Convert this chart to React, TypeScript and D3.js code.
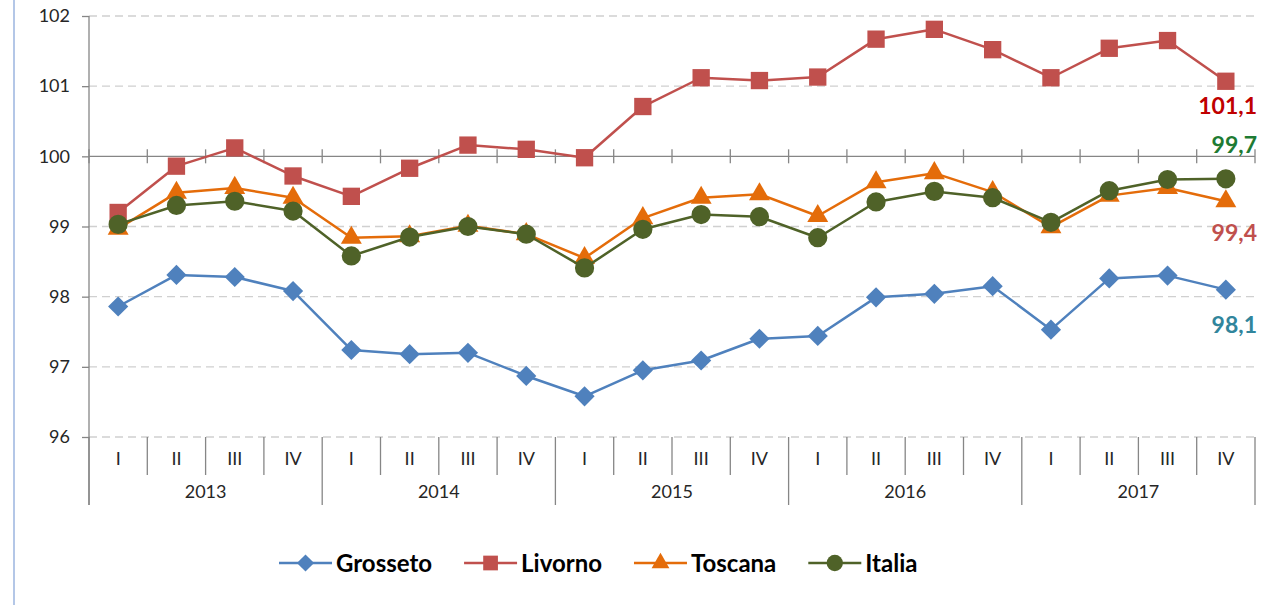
import React, { useEffect, useRef } from 'react';
import * as d3 from 'd3';

// quarters and years on the two-level category axis
const years = ['2013', '2014', '2015', '2016', '2017'];
const quarters = ['I', 'II', 'III', 'IV'];
const yTicks = [96, 97, 98, 99, 100, 101, 102];

// series values
const grosseto = [97.86, 98.31, 98.28, 98.08, 97.24, 97.18, 97.2, 96.87, 96.58, 96.95, 97.09, 97.4, 97.44, 97.99, 98.04, 98.15, 97.53, 98.26, 98.3, 98.1];
const livorno = [99.2, 99.86, 100.12, 99.72, 99.43, 99.83, 100.16, 100.1, 99.98, 100.71, 101.12, 101.08, 101.13, 101.67, 101.81, 101.52, 101.12, 101.54, 101.65, 101.07];
const toscana = [98.97, 99.48, 99.55, 99.41, 98.84, 98.86, 99.01, 98.89, 98.55, 99.12, 99.41, 99.46, 99.15, 99.63, 99.76, 99.49, 98.99, 99.44, 99.55, 99.36];
const italia = [99.03, 99.3, 99.36, 99.22, 98.58, 98.85, 99.0, 98.89, 98.41, 98.96, 99.17, 99.14, 98.84, 99.35, 99.5, 99.41, 99.06, 99.51, 99.67, 99.68];

const seriesNames = ['Grosseto', 'Livorno', 'Toscana', 'Italia'];
const seriesColors = ['#4F81BD', '#C0504D', '#E46C0A', '#4F6228'];
const seriesShapes = ['diamond', 'square', 'triangle', 'circle'];

// end labels typed on the right of the chart
const endLabels = ['101,1', '99,7', '99,4', '98,1'];
const endLabelValues = [101.07, 99.68, 99.36, 98.1];
const endLabelColors = ['#C00000', '#1E7B33', '#C0504D', '#31859C'];
const endLabelOffsets = [33, -26, 40, 43];

const FONT = 'Lato, "Open Sans", sans-serif';

export default function App() {
  const svgRef = useRef<SVGSVGElement>(null);

  useEffect(() => {
    const width = 1266;
    const height = 605;
    const svg = d3.select(svgRef.current)
      .attr('width', width)
      .attr('height', height)
      .style('background', '#fff');
    svg.selectAll('*').remove();

    const left = 89;
    const right = 1255;
    const categories = years.flatMap(y => quarters.map(q => `${y}-${q}`));
    const step = (right - left) / categories.length;

    const x = d3.scalePoint<string>()
      .domain(categories)
      .range([left, right])
      .padding(0.5);
    const y = d3.scaleLinear()
      .domain([96, 102])
      .range([437, 16]);

    // light blue frame edge on the left
    svg.append('line')
      .attr('x1', 14).attr('x2', 14)
      .attr('y1', 0).attr('y2', height)
      .attr('stroke', '#B4C7E7')
      .attr('stroke-width', 2);

    // gridlines (dashed), not on 100 where the category axis sits
    svg.append('g')
      .selectAll('line')
      .data(yTicks.filter(t => t !== 100))
      .join('line')
      .attr('x1', left).attr('x2', right)
      .attr('y1', d => y(d)).attr('y2', d => y(d))
      .attr('stroke', '#D0D0D0')
      .attr('stroke-width', 1.3)
      .attr('stroke-dasharray', '8,5');

    // y axis
    const yAxis = d3.axisLeft(y)
      .tickValues(yTicks)
      .tickSize(7)
      .tickPadding(12)
      .tickFormat(d => String(d));
    const gy = svg.append('g')
      .attr('transform', `translate(${left},0)`)
      .call(yAxis);
    gy.select('.domain').remove();
    gy.selectAll('.tick line').attr('stroke', '#868686').attr('stroke-width', 1.3);
    gy.selectAll('.tick text')
      .attr('fill', '#262626')
      .style('font-family', FONT)
      .style('font-size', '18px');

    svg.append('line')
      .attr('x1', left).attr('x2', left)
      .attr('y1', y(102)).attr('y2', 505)
      .attr('stroke', '#868686')
      .attr('stroke-width', 1.3);

    // horizontal axis crossing at 100 with cross ticks
    const y100 = y(100);
    svg.append('line')
      .attr('x1', left).attr('x2', right)
      .attr('y1', y100).attr('y2', y100)
      .attr('stroke', '#868686')
      .attr('stroke-width', 1.3);
    const bounds = d3.range(categories.length + 1);
    svg.append('g')
      .selectAll('line')
      .data(bounds)
      .join('line')
      .attr('x1', i => left + i * step).attr('x2', i => left + i * step)
      .attr('y1', y100 - 7).attr('y2', y100 + 7)
      .attr('stroke', '#868686')
      .attr('stroke-width', 1.3);

    // multi-level category labels at the bottom
    const yBase = y(96);
    svg.append('g')
      .selectAll('line')
      .data(bounds)
      .join('line')
      .attr('x1', i => left + i * step).attr('x2', i => left + i * step)
      .attr('y1', yBase)
      .attr('y2', i => (i % quarters.length === 0 ? 505 : 475))
      .attr('stroke', '#868686')
      .attr('stroke-width', 1.3);

    svg.append('g')
      .selectAll('text')
      .data(categories)
      .join('text')
      .attr('x', d => x(d) as number)
      .attr('y', 465)
      .attr('text-anchor', 'middle')
      .attr('fill', '#262626')
      .style('font-family', FONT)
      .style('font-size', '18px')
      .text(d => d.split('-')[1]);

    svg.append('g')
      .selectAll('text')
      .data(years)
      .join('text')
      .attr('x', (d, i) => left + (i * 4 + 2) * step)
      .attr('y', 498)
      .attr('text-anchor', 'middle')
      .attr('fill', '#262626')
      .style('font-family', FONT)
      .style('font-size', '18px')
      .text(d => d);

    // marker shapes
    const symbolFor = (shape: string, scale = 1) => {
      if (shape === 'diamond') return d3.symbol().type(d3.symbolDiamond2).size(260 * scale * scale)();
      if (shape === 'square') return d3.symbol().type(d3.symbolSquare).size(300 * scale * scale)();
      if (shape === 'triangle') return d3.symbol().type(d3.symbolTriangle).size(190 * scale * scale)();
      return d3.symbol().type(d3.symbolCircle).size(290 * scale * scale)();
    };

    const allSeries = [grosseto, livorno, toscana, italia];
    const line = d3.line<number>()
      .x((d, i) => x(categories[i]) as number)
      .y(d => y(d));

    allSeries.forEach((values, s) => {
      const g = svg.append('g');
      g.append('path')
        .datum(values)
        .attr('d', line)
        .attr('fill', 'none')
        .attr('stroke', seriesColors[s])
        .attr('stroke-width', 2.5)
        .attr('stroke-linejoin', 'round');
      g.selectAll('path.mark')
        .data(values)
        .join('path')
        .attr('class', 'mark')
        .attr('d', symbolFor(seriesShapes[s]))
        .attr('transform', (d, i) => `translate(${x(categories[i])},${y(d)})`)
        .attr('fill', seriesColors[s]);
    });

    // end labels
    svg.append('g')
      .selectAll('text')
      .data(endLabels)
      .join('text')
      .attr('x', 1257)
      .attr('y', (d, i) => y(endLabelValues[i]) + endLabelOffsets[i])
      .attr('text-anchor', 'end')
      .attr('fill', (d, i) => endLabelColors[i])
      .style('font-family', FONT)
      .style('font-size', '23px')
      .style('font-weight', 'bold')
      .text(d => d);

    // legend
    const legend = svg.append('g').attr('transform', 'translate(279,563)');
    let cursor = 0;
    seriesNames.forEach((name, s) => {
      const item = legend.append('g').attr('transform', `translate(${cursor},0)`);
      item.append('line')
        .attr('x1', 0).attr('x2', 53)
        .attr('y1', 0).attr('y2', 0)
        .attr('stroke', seriesColors[s])
        .attr('stroke-width', 2.5);
      item.append('path')
        .attr('d', symbolFor(seriesShapes[s], 0.85))
        .attr('transform', 'translate(26.5,0)')
        .attr('fill', seriesColors[s]);
      const t = item.append('text')
        .attr('x', 57)
        .attr('y', 8.5)
        .attr('fill', '#000')
        .style('font-family', FONT)
        .style('font-size', '24px')
        .style('font-weight', 'bold')
        .text(name);
      const w = (t.node() as SVGTextElement).getComputedTextLength();
      cursor += 57 + w + 32;
    });
  }, []);

  return (
    <div style={{ position: 'absolute', left: 0, top: 0 }}>
      <svg ref={svgRef}></svg>
    </div>
  );
}
